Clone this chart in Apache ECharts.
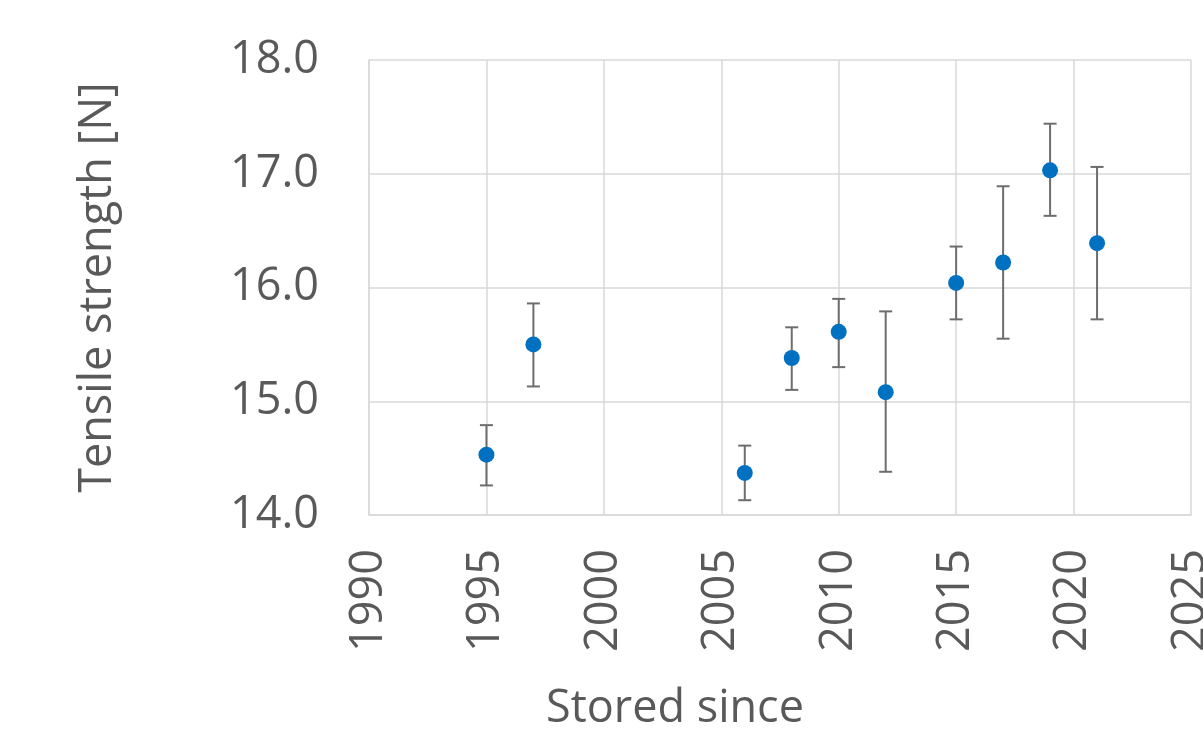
<!DOCTYPE html>
<html>
<head>
<meta charset="utf-8">
<script src="https://cdn.jsdelivr.net/npm/echarts@6/dist/echarts.min.js"></script>
<style>
html,body{margin:0;padding:0;background:#fff;}
#chart{width:1203px;height:732px;}
</style>
</head>
<body>
<div id="chart"></div>
<script>
const years = [1995, 1997, 2006, 2008, 2010, 2012, 2015, 2017, 2019, 2021];
const means = [14.53, 15.50, 14.37, 15.38, 15.61, 15.08, 16.04, 16.22, 17.03, 16.39];
const lower = [14.26, 15.13, 14.13, 15.10, 15.30, 14.38, 15.72, 15.55, 16.63, 15.72];
const upper = [14.79, 15.86, 14.61, 15.65, 15.90, 15.79, 16.36, 16.89, 17.44, 17.06];
const xTitle = 'Stored since';
const yTitle = 'Tensile strength [N]';

const FONT = '"Open Sans", sans-serif';
const TXT = '#595959';
const GRID = '#d9d9d9';

const chart = echarts.init(document.getElementById('chart'), null, {renderer: 'canvas'});
const errData = years.map((y, i) => [y, lower[i], upper[i]]);
const ptData = years.map((y, i) => [y, means[i]]);

chart.setOption({
  animation: false,
  backgroundColor: '#fff',
  grid: {left: 369, right: 12, top: 60, bottom: 217, containLabel: false, outerBoundsMode: 'none'},
  xAxis: {
    type: 'value', min: 1990, max: 2025, interval: 5,
    name: xTitle, nameLocation: 'middle', nameGap: 172,
    nameTextStyle: {fontFamily: FONT, fontSize: 45, color: TXT, padding: [0, 210, 0, 0]},
    axisLine: {show: true, lineStyle: {color: GRID, width: 1.5}},
    axisTick: {show: false},
    splitLine: {show: true, lineStyle: {color: GRID, width: 1.5}},
    axisLabel: {rotate: 90, margin: 34, fontFamily: FONT, fontSize: 45, color: TXT,
      hideOverlap: false, formatter: v => String(v)}
  },
  yAxis: {
    type: 'value', min: 14, max: 18, interval: 1,
    name: yTitle, nameLocation: 'middle', nameGap: 248, nameRotate: 90,
    nameTextStyle: {fontFamily: FONT, fontSize: 45, color: TXT},
    axisLine: {show: true, lineStyle: {color: GRID, width: 1.5}},
    axisTick: {show: false},
    splitLine: {show: true, lineStyle: {color: GRID, width: 1.5}},
    axisLabel: {margin: 50, fontFamily: FONT, fontSize: 45, color: TXT,
      formatter: v => v.toFixed(1)}
  },
  series: [
    {
      type: 'custom',
      data: errData,
      z: 2,
      renderItem: function (params, api) {
        const x = api.value(0);
        const lo = api.coord([x, api.value(1)]);
        const hi = api.coord([x, api.value(2)]);
        const hw = 6.5;
        const st = {stroke: '#6d6d6d', lineWidth: 2};
        return {
          type: 'group',
          children: [
            {type: 'line', shape: {x1: lo[0], y1: lo[1], x2: hi[0], y2: hi[1]}, style: st},
            {type: 'line', shape: {x1: lo[0] - hw, y1: lo[1], x2: lo[0] + hw, y2: lo[1]}, style: st},
            {type: 'line', shape: {x1: hi[0] - hw, y1: hi[1], x2: hi[0] + hw, y2: hi[1]}, style: st}
          ]
        };
      }
    },
    {
      type: 'scatter',
      data: ptData,
      z: 3,
      symbol: 'circle',
      symbolSize: 16,
      itemStyle: {color: '#0070C0', opacity: 1}
    }
  ]
});
</script>
</body>
</html>
